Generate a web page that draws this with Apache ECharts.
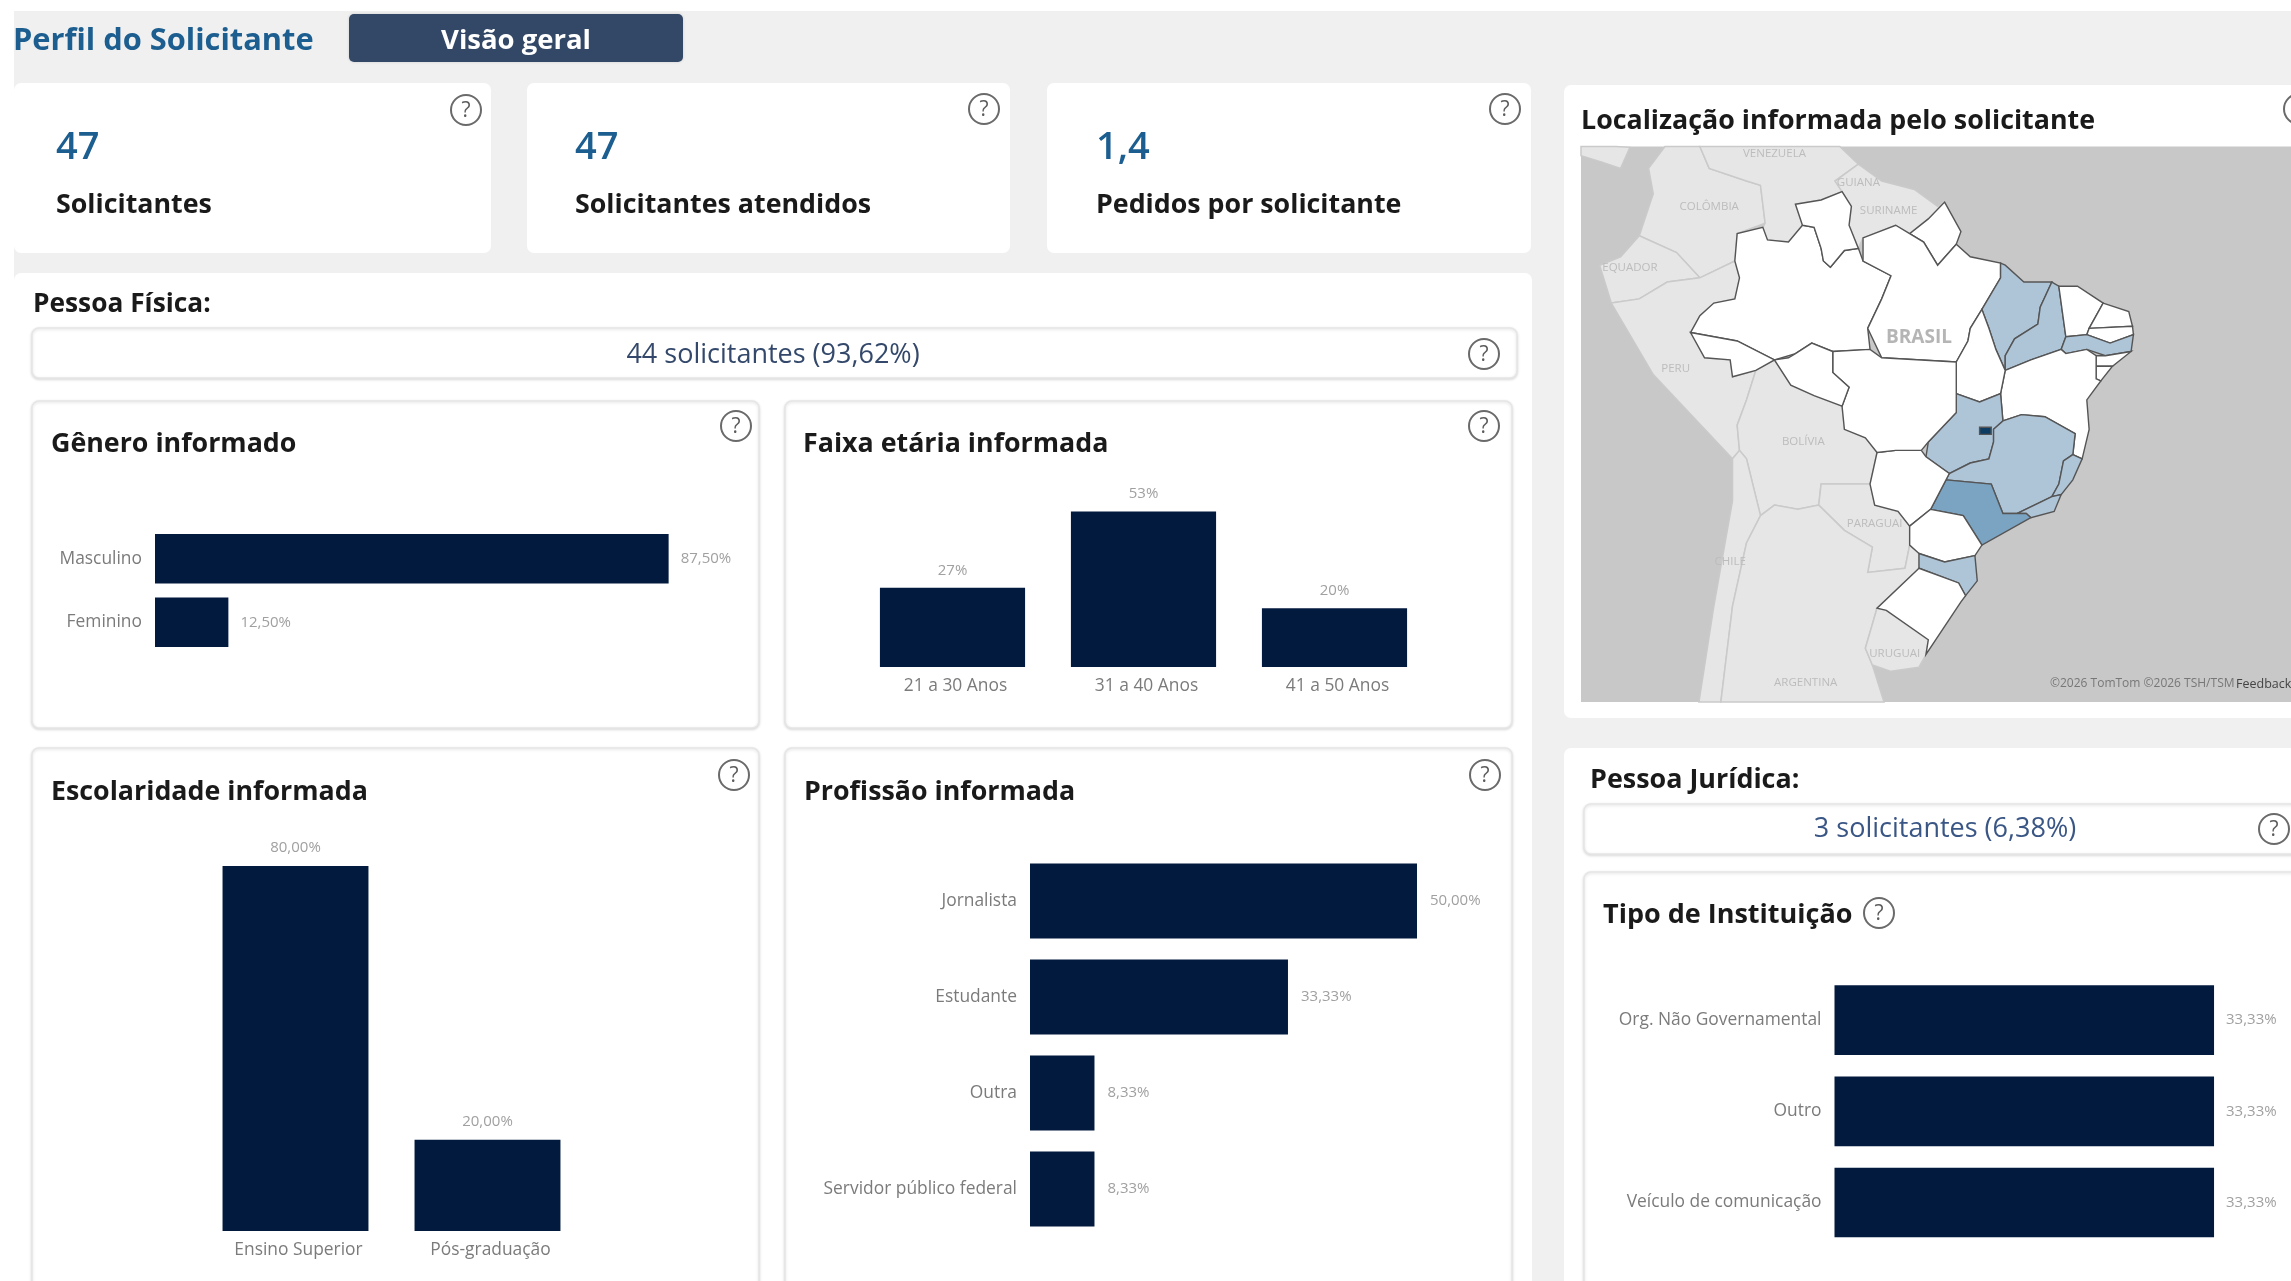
<!DOCTYPE html>
<html lang="pt-BR"><head><meta charset="utf-8"><title>Perfil do Solicitante</title>
<style>html,body{margin:0;padding:0;background:#fff;overflow:hidden}#c{width:2291px;height:1281px;filter:blur(0.55px)}</style>
<script src="https://cdn.jsdelivr.net/npm/echarts@6/dist/echarts.min.js"></script></head>
<body><div id="c"></div>
<script>
// ---------- data ----------
const pageTitle = 'Perfil do Solicitante';
const tabLabel = 'Visão geral';
const kpiValues = ['47', '47', '1,4'];
const kpiLabels = ['Solicitantes', 'Solicitantes atendidos', 'Pedidos por solicitante'];
const generoCategories = ['Masculino', 'Feminino'];
const generoValues = [87.5, 12.5];
const faixaCategories = ['21 a 30 Anos', '31 a 40 Anos', '41 a 50 Anos'];
const faixaValues = [27, 53, 20];
const escolaridadeCategories = ['Ensino Superior', 'Pós-graduação'];
const escolaridadeValues = [80, 20];
const profissaoCategories = ['Jornalista', 'Estudante', 'Outra', 'Servidor público federal'];
const profissaoValues = [50, 33.33, 8.33, 8.33];
const instituicaoCategories = ['Org. Não Governamental', 'Outro', 'Veículo de comunicação'];
const instituicaoValues = [33.33, 33.33, 33.33];
// estimated from the map shading (0 = white)
const stateNames = ['AM','RR','AP','PA','MA','PI','CE','RN','PB','PE','AL','SE','BA','TO','GO','DF','MG','ES','RJ','SP','MS','MT','RO','AC','PR','SC','RS'];
const stateValues = [0,0,0,0,1,1,0,0,0,1,0,0,0,0,1,9,1,1,1,3,0,0,0,0,0,1,0];

// ---------- traced map outlines (picture-space units, mapped by the projection below) ----------
const backgroundOutlines = {
  Oceano: [[45,158],[1568,158],[1568,1478],[45,1478]],
  America: [[45,158],[120,158],[150,160],[130,210],[90,195],[45,180]],
  Colombia: [[225,158],[300,158],[320,210],[400,240],[430,250],[440,340],[380,365],[375,430],[300,470],[250,410],[170,370],[200,270],[190,210]],
  Venezuela: [[300,158],[600,158],[640,200],[590,240],[605,265],[560,285],[505,295],[520,345],[490,385],[445,380],[435,350],[440,340],[430,250],[400,240],[320,210]],
  Guianas: [[640,200],[690,240],[760,260],[810,300],[825,290],[790,330],[750,365],[720,345],[650,375],[640,400],[620,345],[625,300],[605,265],[590,240]],
  Equador: [[170,370],[250,410],[300,470],[230,480],[170,520],[110,530],[85,440],[130,420]],
  Peru: [[110,530],[170,520],[230,480],[300,470],[375,430],[385,470],[375,520],[330,530],[300,560],[280,600],[310,660],[365,665],[370,705],[420,690],[400,760],[380,820],[385,880],[370,900],[200,700]],
  Bolivia: [[420,690],[460,665],[495,725],[545,750],[605,775],[610,830],[655,850],[680,885],[665,960],[560,960],[555,1010],[510,1020],[460,1010],[430,1035],[400,900],[385,880],[380,820],[400,760]],
  Paraguai: [[665,960],[675,1010],[725,1025],[750,1060],[750,1105],[740,1160],[660,1170],[670,1110],[610,1070],[555,1010],[560,960]],
  Chile: [[370,900],[385,880],[400,900],[430,1035],[400,1100],[370,1250],[345,1478],[298,1478],[330,1250],[370,1000]],
  Argentina: [[430,1035],[460,1010],[510,1020],[555,1010],[610,1070],[670,1110],[660,1170],[740,1160],[750,1105],[770,1125],[770,1160],[680,1255],[655,1350],[670,1390],[695,1478],[345,1478],[370,1250],[400,1100]],
  Uruguai: [[680,1255],[700,1260],[790,1330],[785,1365],[770,1395],[710,1405],[670,1390],[655,1350]]
};
const stateOutlines = {
  AM: [[280,600],[300,560],[330,530],[375,520],[385,470],[375,430],[380,365],[435,350],[445,380],[490,385],[520,345],[545,350],[560,400],[565,430],[580,445],[610,405],[640,400],[650,430],[710,465],[690,520],[660,590],[665,640],[585,645],[540,625],[505,650],[460,665],[380,620]],
  RR: [[505,295],[560,285],[605,265],[625,300],[620,345],[640,400],[610,405],[580,445],[565,430],[560,400],[545,350],[520,345]],
  AP: [[825,290],[860,360],[850,390],[810,440],[780,385],[750,365],[790,330]],
  PA: [[650,375],[720,345],[750,365],[780,385],[810,440],[850,390],[880,420],[945,435],[945,470],[905,545],[880,590],[875,620],[850,670],[690,660],[660,590],[690,520],[710,465],[650,430]],
  MA: [[945,435],[955,440],[995,480],[1055,480],[1030,540],[1025,580],[975,615],[955,655],[955,690],[935,640],[920,590],[905,545],[945,470]],
  PI: [[1055,480],[1070,490],[1085,610],[1075,640],[1010,665],[955,690],[955,655],[975,615],[1025,580],[1030,540]],
  CE: [[1070,490],[1110,490],[1165,530],[1135,590],[1130,605],[1085,610]],
  RN: [[1165,530],[1220,550],[1228,585],[1135,590]],
  PB: [[1135,590],[1228,585],[1230,605],[1180,625],[1130,605]],
  PE: [[1085,610],[1130,605],[1180,625],[1230,605],[1225,645],[1170,655],[1130,640],[1085,650],[1075,640]],
  AL: [[1150,655],[1170,655],[1225,645],[1185,680],[1150,680]],
  SE: [[1150,680],[1185,680],[1160,715],[1150,710]],
  BA: [[955,690],[1010,665],[1075,640],[1085,650],[1130,640],[1150,655],[1150,710],[1160,715],[1130,760],[1135,830],[1120,900],[1100,890],[1105,840],[1040,800],[990,795],[950,810],[945,745]],
  TO: [[905,545],[920,590],[935,640],[955,690],[945,745],[900,765],[850,745],[850,670],[875,620],[880,590]],
  GO: [[850,745],[900,765],[945,745],[950,810],[930,830],[930,860],[920,900],[880,910],[835,935],[785,895],[790,860],[850,790]],
  DF: [[900,825],[925,825],[925,842],[900,842]],
  MG: [[950,810],[990,795],[1040,800],[1105,840],[1100,890],[1080,905],[1070,960],[1055,990],[980,1030],[950,1030],[925,960],[828,950],[835,935],[880,910],[920,900],[930,860],[930,830]],
  ES: [[1080,905],[1100,890],[1120,900],[1100,950],[1075,985],[1055,990],[1070,960]],
  RJ: [[1055,990],[1075,985],[1060,1025],[1010,1040],[1000,1030],[980,1030]],
  SP: [[828,950],[925,960],[950,1030],[1000,1030],[1010,1040],[905,1105],[865,1035],[795,1020]],
  MS: [[680,885],[720,880],[775,880],[785,895],[835,935],[795,1020],[750,1060],[725,1025],[675,1010],[665,960]],
  MT: [[585,645],[665,640],[690,660],[850,670],[850,745],[850,790],[790,860],[775,880],[720,880],[680,885],[655,850],[610,830],[605,775],[620,730],[585,695]],
  RO: [[460,665],[490,660],[505,650],[540,625],[585,645],[585,695],[620,730],[605,775],[545,750],[495,725]],
  AC: [[280,600],[380,620],[460,665],[420,690],[370,705],[365,665],[310,660]],
  PR: [[795,1020],[865,1035],[905,1105],[890,1130],[825,1145],[770,1125],[750,1105],[750,1060]],
  SC: [[770,1125],[825,1145],[890,1130],[895,1190],[870,1225],[855,1195],[770,1160]],
  RS: [[770,1160],[855,1195],[870,1225],[860,1240],[785,1365],[790,1330],[700,1260],[680,1255]]
};
const MAPX = 2.145, MAPY = 2.376;       // picture-space to screen scale
const toFeature = (name, ring) => ({type:'Feature', properties:{name}, geometry:{type:'Polygon', coordinates:[[...ring, ring[0]]]}});
const features = [...Object.entries(backgroundOutlines), ...Object.entries(stateOutlines)].map(([n,r]) => toFeature(n,r));
echarts.registerMap('brasil', {type:'FeatureCollection', features});

const NAVY = '#021a3e', BLUE = '#1b5e8f', INK = '#1a1a1a', GREY = '#7b7b7b', LIGHT = '#a0a0a0';
const FONT = '"Open Sans", sans-serif';
const shade = v => v === 0 ? '#ffffff' : v === 1 ? '#aec4d7' : v <= 3 ? '#7ba3c2' : '#0d3d62';

const mapData = [
  {name:'Oceano', value:null, itemStyle:{areaColor:'#c8c8c8', borderWidth:0}},
  ...Object.keys(backgroundOutlines).filter(n => n !== 'Oceano').map(name => ({name, value:null, itemStyle:{areaColor:'#e6e6e6', borderColor:'#cacaca', borderWidth:1.5}})),
  ...stateNames.map((name,i) => ({name, value:stateValues[i], itemStyle:{areaColor:shade(stateValues[i]), borderColor:'#555', borderWidth:1.4}}))
];

// ---------- helpers ----------
const pct2 = v => v.toFixed(2).replace('.', ',') + '%';
const pct0 = v => v + '%';
const card = (x,y,w,h,opt={}) => ({type:'rect', shape:{x,y,width:w,height:h,r:opt.r ?? 7}, style:{fill:opt.fill||'#fff', stroke:opt.stroke||null, lineWidth:opt.lw||0, shadowBlur:opt.sb||0, shadowColor:'rgba(0,0,0,.14)', shadowOffsetY:opt.so||0}, silent:true});
const txt = (x,y,text,size,color,weight,align='left',extra={}) => ({type:'text', x, y, z:50, silent:true, style:{text, fontSize:size, fill:color, fontWeight:weight, fontFamily:FONT, align, verticalAlign:'middle', ...extra}});
const help = (x,y) => ({type:'group', x, y, z:50, silent:true, children:[
  {type:'circle', shape:{cx:0,cy:0,r:15}, style:{fill:'#fff', stroke:'#6a6a6a', lineWidth:2}},
  {type:'text', style:{text:'?', x:0, y:1, fontSize:21, fill:'#5c5c5c', fontFamily:FONT, align:'center', verticalAlign:'middle'}}
]});
const inner = (x,y,w,h) => card(x,y,w,h,{stroke:'#e6e6e6', lw:1.5, sb:3, so:1, r:7});

const grids=[], xAxes=[], yAxes=[], series=[];
function addBars({box, categories, values, max, horizontal, gap, fmt, catSize=17.4, valSize=15, valDist=8, catPad}) {
  const i = grids.length;
  grids.push({left:box[0], top:box[1], width:box[2], height:box[3]});
  const cat = {type:'category', gridIndex:i, data:categories, inverse:!!horizontal, axisLine:{show:false}, axisTick:{show:false}, splitLine:{show:false},
    axisLabel:{color:GREY, fontSize:catSize, fontFamily:FONT, margin:horizontal?13:11, interval:0, padding:catPad || [2,0,0,0]}};
  const val = {type:'value', gridIndex:i, min:0, max, show:false, splitLine:{show:false}};
  xAxes.push(horizontal ? val : cat); yAxes.push(horizontal ? cat : val);
  series.push({type:'bar', xAxisIndex:i, yAxisIndex:i, data:values, barCategoryGap:gap, itemStyle:{color:NAVY}, silent:true,
    label:{show:true, position:horizontal?'right':'top', distance:valDist, color:LIGHT, fontSize:valSize, fontFamily:FONT, formatter:p=>fmt(p.value)}});
}
addBars({box:[155,527,587,127], categories:generoCategories, values:generoValues, max:100, horizontal:true, gap:'22%', fmt:pct2, valDist:12});
addBars({box:[857,491,573,176], categories:faixaCategories, values:faixaValues, max:60, gap:'24%', fmt:pct0, catPad:[0,0,0,6], valDist:10});
addBars({box:[199.5,866,384,365], categories:escolaridadeCategories, values:escolaridadeValues, max:80, gap:'24%', fmt:pct2, catPad:[0,0,0,6], valDist:11});
addBars({box:[1030,853,464.4,384], categories:profissaoCategories, values:profissaoValues, max:60, horizontal:true, gap:'22%', fmt:pct2, valDist:13});
addBars({box:[1834.5,974.5,455.5,273.6], categories:instituicaoCategories, values:instituicaoValues, max:40, horizontal:true, gap:'23.6%', fmt:pct2, valDist:12});

// map
series.push({type:'map', map:'brasil', silent:true, selectedMode:false, layoutCenter:[1936,424.3], layoutSize:710,
  projection:{project:p=>[p[0]/MAPX, p[1]/MAPY], unproject:p=>[p[0]*MAPX, p[1]*MAPY]},
  label:{show:false}, emphasis:{disabled:true}, data:mapData});
const mapX = z => 1560 + z/MAPX, mapY = z => 80 + z/MAPY;
const mapLabels = [['VENEZUELA',460,175],['GUIANA',640,245],['SURINAME',705,310],['COLÔMBIA',320,300],['EQUADOR',150,445],['PERU',248,687],['BOLÍVIA',522,860],['PARAGUAI',675,1055],['CHILE',365,1145],['ARGENTINA',527,1432],['URUGUAI',718,1362]];

const TITLE = 26.8;
const graphic = [
  {type:'rect', shape:{x:14,y:11,width:2277,height:1270}, style:{fill:'#f0f0f0'}, silent:true},
  txt(13,41,pageTitle,30.8,BLUE,700),
  card(349,14,334,48,{fill:'#334766', r:5, sb:3}),
  txt(516,41,tabLabel,27.5,'#fff',700,'center'),
  card(14,83,477,170), card(527,83,483,170), card(1047,83,484,170),
  ...kpiValues.flatMap((v,i)=>{const x=[56,575,1096][i]; return [txt(x,148,v,38,BLUE,600), txt(x,205,kpiLabels[i],TITLE,INK,700)];}),
  help(466,110),help(984,109),help(1505,109),
  card(14,273,1518,1020),
  txt(33,305,'Pessoa Física:',26.3,INK,700),
  inner(32,328,1485,50),
  txt(773,355,'44 solicitantes (93,62%)',27,'#33486a',400,'center'),
  help(1484,354),
  inner(32,401,727,327), inner(785,401,727,327),
  inner(32,748,727,560), inner(785,748,727,560),
  txt(51,444,'Gênero informado',TITLE,INK,700), txt(803,444,'Faixa etária informada',TITLE,INK,700),
  txt(51,792,'Escolaridade informada',TITLE,INK,700), txt(804,792,'Profissão informada',TITLE,INK,700),
  help(736,426),help(1484,426),help(734,775),help(1485,775),
  card(1564,85,740,633),
  txt(1581,121.5,'Localização informada pelo solicitante',TITLE,INK,700),
  help(2299,109),
  ...mapLabels.map(([t,x,y])=>txt(mapX(x),mapY(y),t,11.5,'#bcbcbc',400,'center')),
  txt(mapX(770),mapY(612),'BRASIL',19,'#b5b5b5',700,'center'),
  txt(2050,684,'©2026 TomTom ©2026 TSH/TSM',12,'#777',400),
  txt(2236,684,'Feedback',12.5,'#444',400,'left',{textDecoration:'underline'}),
  card(1564,748,740,560),
  txt(1590,780,'Pessoa Jurídica:',26.9,INK,700),
  inner(1584,804,720,50),
  txt(1945,829,'3 solicitantes (6,38%)',27,'#3a5685',400,'center'),
  help(2274,829),
  inner(1584,872,720,440),
  txt(1603,915,'Tipo de Instituição',27,INK,700),
  help(1879,913)
];

echarts.init(document.getElementById('c'),null,{renderer:'canvas'}).setOption({
  animation:false, backgroundColor:'#fff', tooltip:{show:false},
  grid:grids, xAxis:xAxes, yAxis:yAxes, series, graphic
});
</script></body></html>
